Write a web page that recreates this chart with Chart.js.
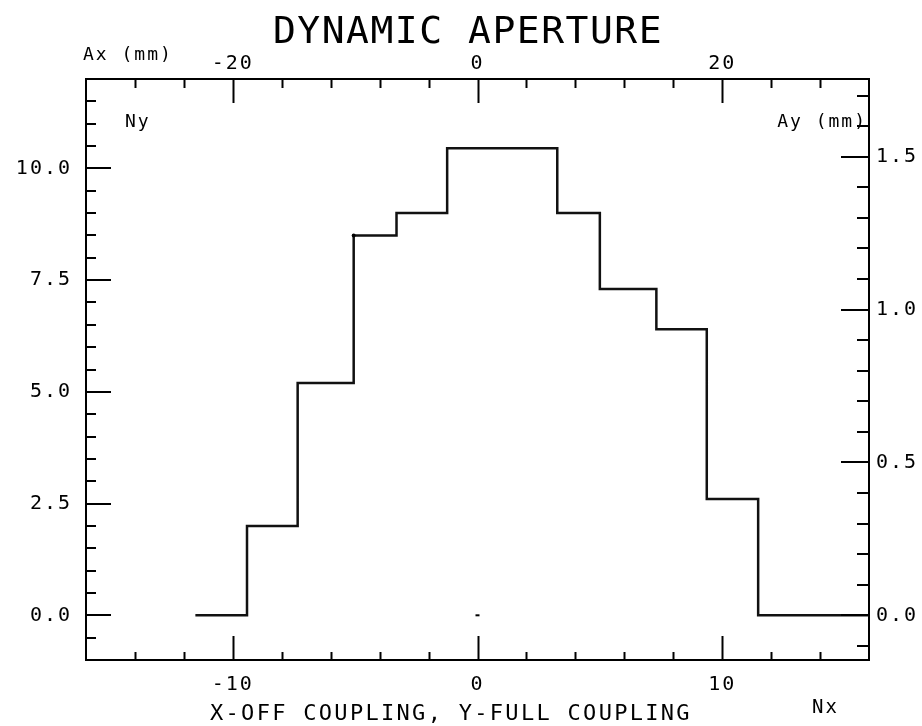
<!DOCTYPE html>
<html>
<head>
<meta charset="utf-8">
<script src="https://cdn.jsdelivr.net/npm/chart.js@4/dist/chart.umd.min.js"></script>
<style>
  html, body { margin:0; padding:0; background:#fff; }
  #wrap { width:922px; height:726px; }
</style>
</head>
<body>
<div id="wrap"><canvas id="c" width="922" height="726"></canvas></div>
<script>
// step outline: Nx where each level starts, Ny of that level
const nxSteps = [-11.53, -9.42, -7.35, -5.06, -3.31, -1.24, 3.26, 5.0, 7.31, 9.37, 11.47, 16];
const nySteps = [0, 2.0, 5.2, 8.5, 9.0, 10.45, 9.0, 7.3, 6.4, 2.6, 0, 0];
// small mark at the origin
const markNx = [0];
const markNy = [0];

// axes
const nxMajor = [-10, 0, 10];
const axMajor = [-20, 0, 20];
const nyMajor = [0, 2.5, 5, 7.5, 10];
const ayMajor = [0, 0.5, 1.0, 1.5];
const nxRange = [-16, 16];
const nyRange = [-1, 12];
const axPerNx = 2;        // Ax (mm) = 2 * Nx
const ayPerNy = 0.1462;

const FONT = '"DejaVu Sans Mono", "Liberation Mono", monospace';

// inward tick marks, like the original plotter output
const tickSpecs = [
  { id: 'x',  side: 'bottom', step: 2,   majors: nxMajor, major: 24, minor: 8 },
  { id: 'x2', side: 'top',    step: 4,   majors: axMajor, major: 24, minor: 9 },
  { id: 'y',  side: 'left',   step: 0.5, majors: nyMajor, major: 25, minor: 10 },
  { id: 'y2', side: 'right',  step: 0.1, majors: ayMajor, major: 28, minor: 12 }
];

const tickMarks = {
  id: 'tickMarks',
  afterDraw(chart) {
    const ctx = chart.ctx, a = chart.chartArea;
    ctx.save();
    ctx.strokeStyle = '#000';
    ctx.lineWidth = 2;
    tickSpecs.forEach(t => {
      const sc = chart.scales[t.id];
      const k0 = Math.ceil(sc.min / t.step - 1e-6), k1 = Math.floor(sc.max / t.step + 1e-6);
      for (let k = k0; k <= k1; k++) {
        const v = k * t.step;
        const p = sc.getPixelForValue(v);
        const isMajor = t.majors.some(m => Math.abs(m - v) < t.step / 100);
        const len = isMajor ? t.major : t.minor;
        ctx.beginPath();
        if (t.side === 'bottom' || t.side === 'top') {
          if (p < a.left + 2 || p > a.right - 2) continue;
          const y0 = t.side === 'bottom' ? a.bottom : a.top;
          const dir = t.side === 'bottom' ? -1 : 1;
          ctx.moveTo(Math.round(p) + 0.5, y0);
          ctx.lineTo(Math.round(p) + 0.5, y0 + dir * len);
        } else {
          if (p < a.top + 2 || p > a.bottom - 2) continue;
          const x0 = t.side === 'left' ? a.left : a.right;
          const dir = t.side === 'left' ? 1 : -1;
          ctx.moveTo(x0, Math.round(p));
          ctx.lineTo(x0 + dir * len, Math.round(p));
        }
        ctx.stroke();
      }
    });
    ctx.restore();
  }
};

// titles and axis names
const texts = [
  { t: 'DYNAMIC APERTURE', x: 468, y: 43, size: 38, align: 'center', sp: 1.5 },
  { t: 'Ax (mm)', x: 83, y: 60, size: 18, align: 'left', sp: 2 },
  { t: 'Ny', x: 125, y: 127, size: 18, align: 'left', sp: 2 },
  { t: 'Ay (mm)', x: 867, y: 127, size: 18, align: 'right', sp: 2 },
  { t: 'Nx', x: 812, y: 713, size: 19, align: 'left', sp: 2 },
  { t: 'X-OFF COUPLING, Y-FULL COUPLING', x: 210, y: 720, size: 22, align: 'left', sp: 2.3 }
];

const textPlugin = {
  id: 'texts',
  afterDraw(chart) {
    const ctx = chart.ctx;
    ctx.save();
    ctx.fillStyle = '#000';
    ctx.textBaseline = 'alphabetic';
    texts.forEach(o => {
      ctx.font = o.size + 'px ' + FONT;
      ctx.letterSpacing = o.sp + 'px';
      ctx.textAlign = o.align;
      ctx.fillText(o.t, o.x, o.y);
    });
    ctx.restore();
  }
};

// white page + wider spacing for the tick numbers (plotter font is wide)
const white = {
  id: 'white',
  beforeDraw(chart) {
    const ctx = chart.ctx;
    ctx.save();
    ctx.fillStyle = '#fff';
    ctx.fillRect(0, 0, chart.width, chart.height);
    ctx.restore();
    ctx.letterSpacing = '2px';
  }
};

const tickFont = { family: FONT, size: 20 };
const frame = { display: true, color: '#000', width: 2 };
const noGrid = { display: false, drawTicks: false };

new Chart(document.getElementById('c'), {
  type: 'line',
  data: {
    datasets: [{
      label: 'aperture',
      data: nxSteps.map((x, i) => ({ x: x, y: nySteps[i] })),
      stepped: 'before',
      borderColor: '#111',
      borderWidth: 2.5,
      pointRadius: nxSteps.map((x, i) => i === 3 ? 2 : 0),
      pointBackgroundColor: '#000',
      pointBorderWidth: 0,
      fill: false
    }, {
      label: 'origin',
      data: markNx.map((x, i) => ({ x: x, y: markNy[i] })),
      showLine: false,
      pointStyle: 'line',
      pointRadius: 2,
      borderColor: '#000',
      borderWidth: 2
    }]
  },
  options: {
    responsive: false,
    animation: false,
    layout: { padding: 0 },
    plugins: { legend: { display: false }, title: { display: false }, tooltip: { enabled: false } },
    scales: {
      x: {
        type: 'linear', position: 'bottom', min: nxRange[0], max: nxRange[1],
        afterBuildTicks: s => { s.ticks = nxMajor.map(v => ({ value: v })); },
        ticks: { font: tickFont, color: '#000', padding: 13, maxRotation: 0, autoSkip: false, callback: v => String(v) },
        grid: noGrid, border: frame,
        afterFit: s => { s.height = 66; }
      },
      x2: {
        type: 'linear', position: 'top', min: nxRange[0] * axPerNx, max: nxRange[1] * axPerNx,
        afterBuildTicks: s => { s.ticks = axMajor.map(v => ({ value: v })); },
        ticks: { font: tickFont, color: '#000', padding: 3, maxRotation: 0, autoSkip: false, callback: v => String(v) },
        grid: noGrid, border: frame,
        afterFit: s => { s.height = 79; }
      },
      y: {
        type: 'linear', position: 'left', min: nyRange[0], max: nyRange[1],
        afterBuildTicks: s => { s.ticks = nyMajor.map(v => ({ value: v })); },
        ticks: { font: tickFont, color: '#000', padding: 14, autoSkip: false, callback: v => v.toFixed(1) },
        grid: noGrid, border: frame,
        afterFit: s => { s.width = 86; }
      },
      y2: {
        type: 'linear', position: 'right', min: nyRange[0] * ayPerNy, max: nyRange[1] * ayPerNy,
        afterBuildTicks: s => { s.ticks = ayMajor.map(v => ({ value: v })); },
        ticks: { font: tickFont, color: '#000', padding: 7, autoSkip: false, callback: v => v.toFixed(1) },
        grid: noGrid, border: frame,
        afterFit: s => { s.width = 53; }
      }
    }
  },
  plugins: [white, tickMarks, textPlugin]
});
</script>
</body>
</html>
